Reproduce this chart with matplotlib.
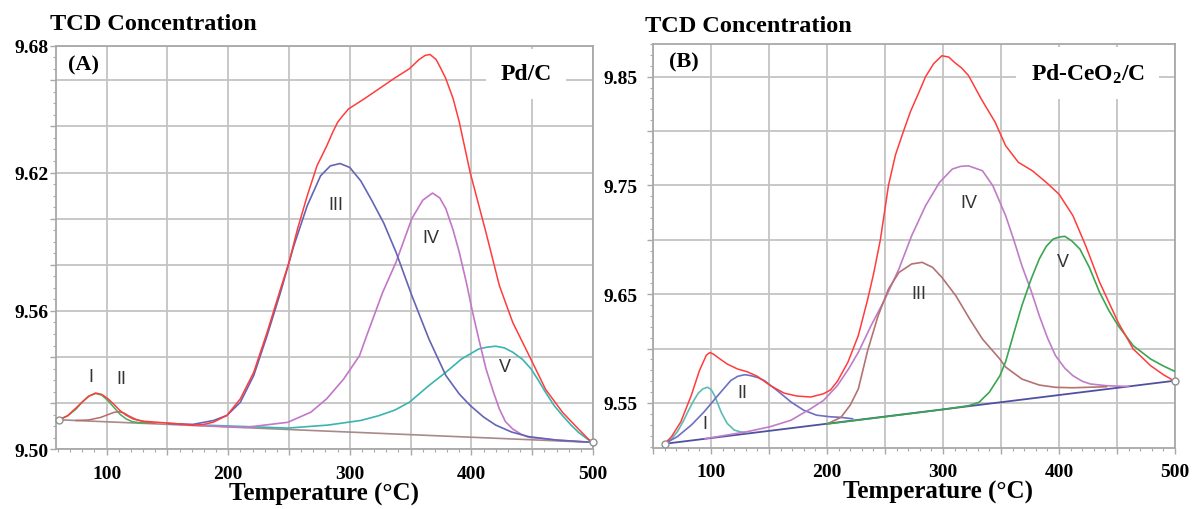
import matplotlib
matplotlib.use("Agg")
import matplotlib.pyplot as plt
from matplotlib.ticker import MultipleLocator, FixedLocator, FixedFormatter, FuncFormatter

plt.rcParams['mathtext.fontset'] = 'custom'
plt.rcParams['mathtext.rm'] = 'Liberation Serif:bold'
plt.rcParams['mathtext.it'] = 'Liberation Serif:italic:bold'
plt.rcParams['mathtext.bf'] = 'Liberation Serif:bold'

# ---------------- Panel A (Pd/C) data ----------------
baseA_T = [61, 500]
baseA_v = [9.5128, 9.5030]

redA_T = [61, 68, 75, 80, 86, 91, 96, 101, 106, 111, 116, 122, 130, 140, 150, 160, 171, 180, 188,
          199, 210, 221, 232, 243, 250, 257, 265, 273, 281, 286, 290, 294, 299, 312, 324, 337, 349,
          357, 362, 366, 371, 375, 379, 385, 390, 399, 412, 423, 434, 449, 461, 475, 488, 496, 500]
redA_v = [9.5128, 9.5146, 9.5180, 9.5205, 9.5232, 9.5244, 9.5238, 9.5220, 9.5195, 9.5168, 9.5148,
          9.5131, 9.5122, 9.5118, 9.5114, 9.5110, 9.5104, 9.5108, 9.5118, 9.5147, 9.5219, 9.5334,
          9.5507, 9.5695, 9.5810, 9.5955, 9.6099, 9.6229, 9.6315, 9.6375, 9.6418, 9.6445, 9.6476,
          9.6520, 9.6563, 9.6610, 9.6650, 9.6690, 9.6708, 9.6712, 9.6690, 9.6650, 9.6607, 9.6520,
          9.6420, 9.6200, 9.5940, 9.5710, 9.5550, 9.5390, 9.5260, 9.5160, 9.5088, 9.5045, 9.5030]

greenA_T = [61, 68, 75, 80, 85, 91, 96, 101, 106, 111, 116, 121, 126, 135]
greenA_v = [9.5128, 9.5145, 9.5175, 9.5205, 9.5230, 9.5242, 9.5235, 9.5212, 9.5182, 9.5152,
            9.5132, 9.5120, 9.5116, 9.5114]

brownA_T = [75, 85, 95, 101, 106, 110, 114, 119, 125, 132, 140]
brownA_v = [9.5125, 9.5127, 9.5138, 9.5150, 9.5160, 9.5163, 9.5158, 9.5143, 9.5128, 9.5118, 9.5113]

blueA_T = [150, 171, 188, 199, 210, 221, 232, 243, 254, 265, 276, 284, 292, 300, 309, 318, 328,
           338, 351, 365, 379, 390, 399, 410, 420, 433, 447, 470, 500]
blueA_v = [9.5112, 9.5108, 9.5125, 9.5147, 9.5204, 9.5320, 9.5493, 9.5680, 9.5883, 9.6056, 9.6186,
           9.6229, 9.6239, 9.6222, 9.6164, 9.6080, 9.5980, 9.5855, 9.5667, 9.5479, 9.5320, 9.5240,
           9.5190, 9.5140, 9.5105, 9.5075, 9.5055, 9.5040, 9.5030]

purpleA_T = [160, 214, 249, 268, 281, 295, 308, 313, 320, 327, 338, 351, 360, 368, 374, 379, 385,
             390, 396, 401, 406, 412, 418, 423, 428, 434, 441, 447, 470, 500]
purpleA_v = [9.5107, 9.5095, 9.5117, 9.5161, 9.5219, 9.5305, 9.5406, 9.5480, 9.5580, 9.5680,
             9.5811, 9.6000, 9.6080, 9.6111, 9.6090, 9.6043, 9.5950, 9.5855, 9.5720, 9.5594,
             9.5480, 9.5349, 9.5250, 9.5175, 9.5120, 9.5088, 9.5065, 9.5052, 9.5040, 9.5030]

cyanA_T = [180, 249, 282, 309, 324, 337, 349, 365, 379, 392, 406, 413, 420, 427, 434, 442, 449,
           455, 461, 468, 475, 482, 488, 496, 500]
cyanA_v = [9.5105, 9.5092, 9.5105, 9.5125, 9.5146, 9.5170, 9.5204, 9.5276, 9.5334, 9.5392, 9.5435,
           9.5443, 9.5447, 9.5440, 9.5421, 9.5390, 9.5349, 9.5300, 9.5247, 9.5190, 9.5146, 9.5105,
           9.5074, 9.5042, 9.5030]

labelsA = ['I', 'II', 'III', 'IV', 'V']
labelsA_T = [86.8, 112, 288.8, 367, 427.5]
labelsA_v = [9.5314, 9.5305, 9.6061, 9.5917, 9.5360]

# ---------------- Panel B (Pd-CeO2/C) data ----------------
baseB_T = [60, 500]
baseB_v = [9.5125, 9.5705]

redB_T = [60, 66, 74, 83, 90, 96, 99, 102, 106, 114, 123, 131, 140, 151, 163, 174, 186, 197, 203,
          209, 218, 227, 235, 240, 246, 253, 259, 266, 272, 279, 285, 292, 299, 305, 310, 316, 322,
          333, 345, 354, 365, 377, 389, 400, 412, 423, 435, 451, 464, 479, 490, 499]
redB_v = [9.5125, 9.5191, 9.5327, 9.5570, 9.5797, 9.5940, 9.5964, 9.5950, 9.5918, 9.5858, 9.5812,
          9.5788, 9.5745, 9.5661, 9.5591, 9.5564, 9.5555, 9.5585, 9.5620, 9.5700, 9.5874, 9.6120,
          9.6450, 9.6680, 9.7000, 9.7500, 9.7780, 9.8000, 9.8180, 9.8350, 9.8500, 9.8620, 9.8692,
          9.8680, 9.8630, 9.8580, 9.8510, 9.8294, 9.8080, 9.7865, 9.7712, 9.7635, 9.7528, 9.7420,
          9.7222, 9.6946, 9.6610, 9.6241, 9.5996, 9.5843, 9.5760, 9.5705]

cyanB_T = [60, 66, 71, 76, 80, 85, 89, 93, 97, 100, 103, 106, 109, 114, 120, 125, 130]
cyanB_v = [9.5125, 9.5170, 9.5236, 9.5330, 9.5418, 9.5520, 9.5590, 9.5630, 9.5645, 9.5625, 9.5570,
           9.5490, 9.5410, 9.5312, 9.5252, 9.5235, 9.5228]

blueB_T = [60, 71, 83, 94, 106, 117, 123, 129, 134, 140, 146, 157, 169, 180, 191, 203, 212, 222]
blueB_v = [9.5125, 9.5191, 9.5297, 9.5418, 9.5570, 9.5706, 9.5745, 9.5760, 9.5752, 9.5735, 9.5706,
           9.5615, 9.5509, 9.5433, 9.5388, 9.5373, 9.5368, 9.5355]

purpleB_T = [95, 131, 151, 169, 186, 197, 209, 219, 227, 238, 250, 262, 273, 285, 297, 308, 315,
             322, 334, 343, 354, 361, 368, 376, 383, 390, 397, 405, 412, 420, 427, 441, 460]
purpleB_v = [9.5172, 9.5236, 9.5282, 9.5342, 9.5448, 9.5524, 9.5661, 9.5820, 9.5966, 9.6211,
             9.6456, 9.6732, 9.7038, 9.7314, 9.7528, 9.7650, 9.7675, 9.7680, 9.7635, 9.7497,
             9.7222, 9.7000, 9.6762, 9.6530, 9.6303, 9.6100, 9.5935, 9.5820, 9.5751, 9.5700,
             9.5675, 9.5659, 9.5652]

brownB_T = [200, 212, 220, 227, 235, 244, 253, 262, 273, 282, 291, 299, 311, 323, 334, 349, 354,
            368, 383, 397, 412, 441]
brownB_v = [9.5307, 9.5368, 9.5480, 9.5629, 9.5980, 9.6300, 9.6548, 9.6700, 9.6778, 9.6793,
            9.6747, 9.6655, 9.6487, 9.6272, 9.6088, 9.5904, 9.5830, 9.5720, 9.5665, 9.5644,
            9.5640, 9.5650]

greenB_T = [200, 250, 300, 322, 331, 340, 349, 354, 361, 368, 376, 383, 389, 395, 400, 405, 411,
            418, 426, 435, 443, 451, 464, 479, 490, 500]
greenB_v = [9.5307, 9.5373, 9.5440, 9.5475, 9.5506, 9.5600, 9.5750, 9.5880, 9.6140, 9.6395,
            9.6640, 9.6824, 9.6940, 9.7007, 9.7025, 9.7032, 9.6990, 9.6915, 9.6750, 9.6517,
            9.6350, 9.6211, 9.6027, 9.5904, 9.5840, 9.5790]

labelsB = ['I', 'II', 'III', 'IV', 'V']
labelsB_T = [94.3, 127, 279, 322, 403.8]
labelsB_v = [9.5312, 9.5600, 9.6511, 9.7344, 9.6800]

# ---------------- styling ----------------
SERIF = 'Liberation Serif'
SANS = 'Liberation Sans'
GRID = '#c4c4c4'
SPINE = '#a8a8a8'
RED = '#ff3c3c'
NUM = '#333333'

fig = plt.figure(figsize=(11.94, 5.10), dpi=100)
fig.patch.set_facecolor('white')

axA = fig.add_axes([55.5 / 1194, 1 - 450.3 / 510, 537.5 / 1194, 403.6 / 510])
axB = fig.add_axes([653 / 1194, 1 - 448.6 / 510, 522 / 1194, 403.6 / 510])


def style_axes(ax, xlim, ylim, ymaj, ylabels, yminor, ypad):
    ax.set_xlim(*xlim)
    ax.set_ylim(*ylim)
    ax.xaxis.set_major_locator(MultipleLocator(50))
    ax.xaxis.set_major_formatter(FuncFormatter(
        lambda x, pos: f"{int(round(x))}" if int(round(x)) % 100 == 0 else ""))
    ax.xaxis.set_minor_locator(MultipleLocator(10))
    ax.yaxis.set_major_locator(FixedLocator(ymaj))
    ax.yaxis.set_major_formatter(FixedFormatter(ylabels))
    ax.yaxis.set_minor_locator(MultipleLocator(yminor))
    ax.grid(True, which='major', color=GRID, lw=1.3)
    ax.set_axisbelow(True)
    for s in ax.spines.values():
        s.set_color(SPINE)
        s.set_linewidth(1.3)
    ax.tick_params(axis='both', which='major', color=SPINE, length=4, width=1)
    ax.tick_params(axis='both', which='minor', color=SPINE, length=2.5, width=0.8)
    ax.tick_params(axis='x', which='major', pad=7)
    ax.tick_params(axis='y', which='major', pad=ypad)
    for lab in ax.get_xticklabels() + ax.get_yticklabels():
        lab.set_fontfamily(SERIF)
        lab.set_fontweight('bold')
        lab.set_fontsize(14)


# ---------------- Panel A ----------------
yA_ticks = [9.50, 9.52, 9.54, 9.56, 9.58, 9.60, 9.62, 9.64, 9.66, 9.675]
yA_labels = ['9.50', '', '', '9.56', '', '', '9.62', '', '', '9.68']
style_axes(axA, (58, 500), (9.50, 9.675), yA_ticks, yA_labels, 0.005, 1)

axA.plot(baseA_T, baseA_v, color='#a88a8a', lw=1.2, zorder=2)
axA.plot(greenA_T, greenA_v, color='#3cb060', lw=1.1, zorder=3)
axA.plot(brownA_T, brownA_v, color='#b86a6a', lw=1.1, zorder=3)
axA.plot(cyanA_T, cyanA_v, color='#3ab4b0', lw=1.2, zorder=3)
axA.plot(purpleA_T, purpleA_v, color='#c277c8', lw=1.2, zorder=3)
axA.plot(blueA_T, blueA_v, color='#6464b4', lw=1.2, zorder=3)
axA.plot(redA_T, redA_v, color=RED, lw=1.1, zorder=4)
axA.plot([baseA_T[0], baseA_T[-1]], [baseA_v[0], baseA_v[-1]], ls='none', marker='o',
         ms=5, mfc='white', mec='#909090', mew=1, zorder=5, clip_on=False)

for t, x, y in zip(labelsA, labelsA_T, labelsA_v):
    axA.text(x, y, t, fontfamily=SANS, fontsize=13, color=NUM, ha='center', va='center', zorder=6)

axA.text(80.9, 9.6668, '(A)', fontfamily=SERIF, fontweight='bold', fontsize=16,
         ha='center', va='center', zorder=6)
axA.text(445, 9.6628, 'Pd/C', fontfamily=SERIF, fontweight='bold', fontsize=17,
         ha='center', va='center', zorder=6,
         bbox=dict(boxstyle='square,pad=0.6', fc='white', ec='none'))
axA.set_xlabel('Temperature (°C)', fontfamily=SERIF, fontweight='bold', fontsize=18)

# ---------------- Panel B ----------------
yB_ticks = [9.55, 9.60, 9.65, 9.70, 9.75, 9.80, 9.85]
yB_labels = ['9.55', '', '9.65', '', '9.75', '', '9.85']
style_axes(axB, (50, 500), (9.509, 9.88), yB_ticks, yB_labels, 0.01, 7)

axB.plot(baseB_T, baseB_v, color='#5050a0', lw=1.3, zorder=2)
axB.plot(cyanB_T, cyanB_v, color='#5cbcb4', lw=1.2, zorder=3)
axB.plot(blueB_T, blueB_v, color='#6e6ec4', lw=1.2, zorder=3)
axB.plot(purpleB_T, purpleB_v, color='#c07cc8', lw=1.2, zorder=3)
axB.plot(brownB_T, brownB_v, color='#b47272', lw=1.2, zorder=3)
axB.plot(greenB_T, greenB_v, color='#3aa650', lw=1.2, zorder=3)
axB.plot(redB_T, redB_v, color=RED, lw=1.1, zorder=4)
axB.plot([baseB_T[0], baseB_T[-1]], [baseB_v[0], baseB_v[-1]], ls='none', marker='o',
         ms=5, mfc='white', mec='#909090', mew=1, zorder=5, clip_on=False)

for t, x, y in zip(labelsB, labelsB_T, labelsB_v):
    axB.text(x, y, t, fontfamily=SANS, fontsize=13, color=NUM, ha='center', va='center', zorder=6)

axB.text(76.7, 9.8639, '(B)', fontfamily=SERIF, fontweight='bold', fontsize=16,
         ha='center', va='center', zorder=6)
axB.text(424.7, 9.8533, 'Pd-CeO$_2$/C', fontfamily=SERIF, fontweight='bold', fontsize=17,
         ha='center', va='center', zorder=6,
         bbox=dict(boxstyle='square,pad=0.6', fc='white', ec='none'))
axB.set_xlabel('Temperature (°C)', fontfamily=SERIF, fontweight='bold', fontsize=18)
axB.xaxis.set_label_coords(0.546, -0.081)
axA.xaxis.set_label_coords(0.5, -0.081)

# ---------------- titles ----------------
fig.text(50 / 1194, 1 - 25 / 510, 'TCD Concentration', fontfamily=SERIF, fontweight='bold',
         fontsize=17.5, ha='left', va='center')
fig.text(645 / 1194, 1 - 26 / 510, 'TCD Concentration', fontfamily=SERIF, fontweight='bold',
         fontsize=17.5, ha='left', va='center')

fig.savefig('out.png', dpi=100, facecolor='white')
